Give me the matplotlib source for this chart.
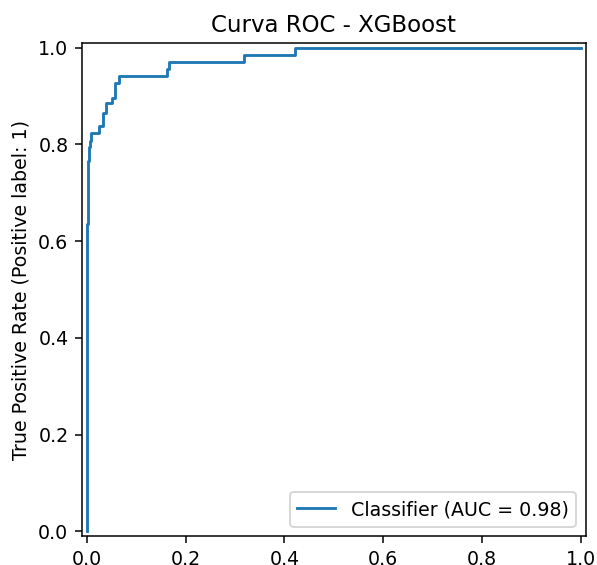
import matplotlib
matplotlib.use("Agg")
import matplotlib.pyplot as plt

# ROC curve points (corners of the step curve)
fpr = [0.0, 0.0, 0.002, 0.002, 0.005, 0.005, 0.007, 0.007, 0.009, 0.009,
       0.024, 0.024, 0.033, 0.033, 0.040, 0.040, 0.052, 0.052, 0.058, 0.058,
       0.065, 0.065, 0.163, 0.163, 0.166, 0.166, 0.319, 0.319, 0.422, 0.422, 1.0]
tpr = [0.0, 0.636, 0.636, 0.766, 0.766, 0.794, 0.794, 0.808, 0.808, 0.823,
       0.823, 0.839, 0.839, 0.866, 0.866, 0.885, 0.885, 0.897, 0.897, 0.928,
       0.928, 0.942, 0.942, 0.956, 0.956, 0.971, 0.971, 0.985, 0.985, 1.0, 1.0]
auc_value = 0.98

dpi = 137
fig = plt.figure(figsize=(597 / dpi, 565 / dpi), dpi=dpi)
ax = fig.add_axes([0.137, 0.051, 0.844, 0.873])

ax.plot(fpr, tpr, color="#1f77b4", label=f"Classifier (AUC = {auc_value:.2f})")
ax.set_xlim(-0.01, 1.01)
ax.set_ylim(-0.01, 1.01)
ax.set_xticks([0.0, 0.2, 0.4, 0.6, 0.8, 1.0])
ax.set_yticks([0.0, 0.2, 0.4, 0.6, 0.8, 1.0])
ax.set_ylabel("True Positive Rate (Positive label: 1)")
ax.set_title("Curva ROC - XGBoost")
ax.legend(loc="lower right")

fig.savefig("out.png", dpi=dpi)
